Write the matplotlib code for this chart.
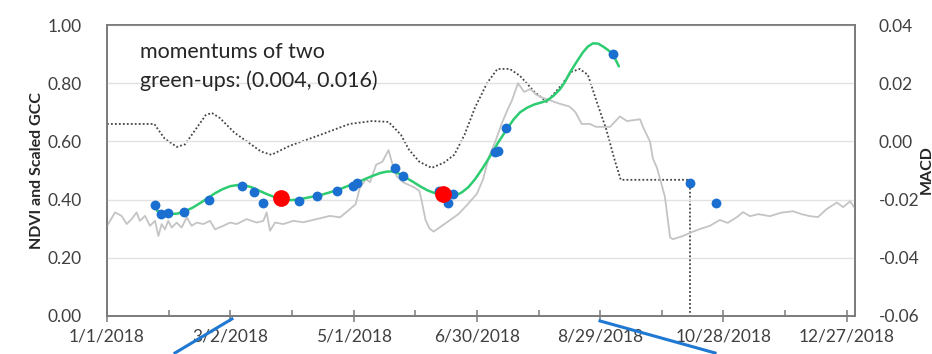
import datetime as dt
import matplotlib
matplotlib.use("Agg")
import matplotlib.pyplot as plt
from matplotlib.ticker import FixedLocator

plt.rcParams['font.family'] = ['Lato', 'DejaVu Sans']

START = dt.date(2018, 1, 1)

# Scaled GCC (day of year, value)
gcc_days = [0, 1.5, 3.9, 7.1, 9.6, 12.0, 14.4, 16.0, 18.5, 20.9, 23.4, 25.0, 26.6, 28.2,
            29.8, 31.5, 33.9, 36.3, 38.8, 41.2, 43.6, 46.9, 50.1, 52.6, 56.6, 59.9, 63.1,
            68.0, 72.8, 76.1, 77.7, 79.3, 81.8, 85.8, 90.7, 95.5, 102.0, 108.5, 113.4,
            117, 121, 123, 126, 128, 131, 134, 137, 139, 141, 144, 147, 150, 152, 153,
            155, 157, 159, 163, 167, 171, 175, 180, 183, 186, 189, 192, 195, 197, 200,
            203, 206, 209, 212, 216, 220, 225, 228, 231, 235, 238, 241, 244.8, 249.6,
            253, 259.4, 260.8, 264.2, 265.7, 267.6, 271.5, 274, 275.4, 280.3, 285.2,
            289, 293.4, 298.2, 302, 306.6, 309.5, 312.9, 317, 322.6, 328, 333.8, 338,
            342.1, 346, 350.1, 355.2, 358.2, 361.6, 364]
gcc_vals = [0.31, 0.327, 0.356, 0.344, 0.316, 0.333, 0.356, 0.327, 0.344, 0.310, 0.327,
            0.275, 0.316, 0.298, 0.327, 0.304, 0.321, 0.304, 0.339, 0.310, 0.321, 0.316,
            0.327, 0.298, 0.310, 0.321, 0.316, 0.333, 0.321, 0.327, 0.356, 0.293, 0.321,
            0.316, 0.327, 0.322, 0.333, 0.344, 0.339, 0.36, 0.384, 0.44, 0.47, 0.46, 0.52,
            0.53, 0.57, 0.52, 0.48, 0.46, 0.45, 0.44, 0.43, 0.40, 0.33, 0.30, 0.29, 0.31,
            0.33, 0.35, 0.38, 0.42, 0.47, 0.55, 0.60, 0.66, 0.71, 0.74, 0.80, 0.77, 0.78,
            0.76, 0.75, 0.74, 0.73, 0.72, 0.70, 0.66, 0.66, 0.65, 0.65, 0.65, 0.686,
            0.67, 0.676, 0.65, 0.60, 0.54, 0.51, 0.41, 0.27, 0.264, 0.275, 0.29,
            0.30, 0.31, 0.33, 0.32, 0.34, 0.357, 0.343, 0.35, 0.343, 0.355, 0.36, 0.35,
            0.343, 0.34, 0.367, 0.39, 0.374, 0.394, 0.37]

# MACD (secondary axis)
macd_days = [0, 23, 28, 34, 38, 43, 48, 51, 55, 62, 70, 75, 80, 89, 104, 118, 129, 137,
             143, 147, 152, 158, 164, 169, 174, 179, 185, 190, 196, 201, 208, 214, 220,
             226, 230, 234, 238, 243, 247, 250, 283.7, 283.7]
macd_vals = [0.006, 0.006, 0.001, -0.0019, -0.001, 0.004, 0.009, 0.0098, 0.008, 0.003,
             -0.001, -0.0035, -0.0046, -0.0015, 0.0023, 0.006, 0.007, 0.0067, 0.0023,
             -0.0029, -0.007, -0.0091, -0.0073, -0.0046, 0.0023, 0.0115, 0.0201, 0.0249,
             0.0249, 0.0225, 0.017, 0.0136, 0.0184, 0.0239, 0.0249, 0.0229, 0.0143,
             0.004, -0.0063, -0.0132, -0.0132, -0.06]

# NDVI observations
ndvi_days = [23.4, 26.1, 29.7, 37.5, 49.6, 65.7, 71.5, 75.9, 93.4, 102.2, 111.9, 119.7,
             121.7, 140.1, 144.0, 161.6, 168.4, 165.9, 188.8, 190.3, 194.2, 246.2,
             283.7, 296.4]
ndvi_vals = [0.381, 0.350, 0.353, 0.357, 0.398, 0.446, 0.425, 0.388, 0.395, 0.412, 0.429,
             0.446, 0.456, 0.508, 0.480, 0.429, 0.419, 0.388, 0.563, 0.566, 0.645, 0.902,
             0.456, 0.388]

# Fitted NDVI curve
fit_days = [24.3, 27.5, 30.7, 34.3, 38.0, 41.6, 45.3, 49.0, 52.6, 56.3, 59.9, 63.5, 67.2,
            70.9, 74.5, 78.1, 81.8, 85.5, 89.1, 92.8, 96.4, 100.0, 103.6, 108.5, 113.4,
            118.3, 123.1, 128.0, 132.8, 136.0, 138.7, 141.8, 145.0, 148.7, 152.3, 155.9,
            159.6, 163.3, 166.9, 169.8, 172.7, 175.9, 179.1, 182.8, 186.4, 190.5, 194.6,
            197.8, 201.0, 204.5, 208.0, 211.0, 214.1, 217.3, 220.4, 222.9, 225.3, 228.5,
            231.6, 234.0, 236.5, 239.0, 241.4, 243.8, 246.2, 249.1]
fit_vals = [0.362, 0.354, 0.350, 0.352, 0.360, 0.372, 0.388, 0.405, 0.422, 0.436, 0.446,
            0.450, 0.449, 0.441, 0.429, 0.418, 0.408, 0.401, 0.398, 0.400, 0.405, 0.410,
            0.415, 0.425, 0.436, 0.450, 0.463, 0.478, 0.491, 0.496, 0.497, 0.490, 0.477,
            0.462, 0.446, 0.432, 0.422, 0.415, 0.412, 0.415, 0.425, 0.443, 0.470, 0.508,
            0.549, 0.598, 0.642, 0.675, 0.700, 0.716, 0.727, 0.733, 0.740, 0.757, 0.779,
            0.805, 0.837, 0.873, 0.906, 0.926, 0.937, 0.936, 0.926, 0.914, 0.899, 0.858]

# Green-up points
greenup_days = [84.7, 163.5]
greenup_vals = [0.405, 0.419]

# Tick values
left_ticks = [0.0, 0.2, 0.4, 0.6, 0.8, 1.0]
right_ticks = [-0.06, -0.04, -0.02, 0.0, 0.02, 0.04]

# Callout lines leading to the panel below
callouts = [([60.8, 33.1], [-0.010, -0.127]), ([239.9, 295.9], [-0.017, -0.127])]

TXT = '#404040'

fig = plt.figure(figsize=(9.32, 3.54), dpi=100)
ax = fig.add_axes([107 / 932, 1 - 316 / 354, (855 - 107) / 932, (316 - 25) / 354])
ax2 = ax.twinx()
ax.set_zorder(ax2.get_zorder() + 1)
ax.patch.set_visible(False)

ax.plot(gcc_days, gcc_vals, color='#c4c4c4', lw=1.3, zorder=2)
ax2.plot(macd_days, macd_vals, color='#444444', lw=1.3, linestyle=(0, (1, 1.2)))
ax.plot(fit_days, fit_vals, color='#2ecc71', lw=1.8, zorder=3, solid_capstyle='round')
ax.scatter(ndvi_days, ndvi_vals, s=50, color='#1a6fd1', zorder=4, linewidths=0)
ax.scatter(greenup_days, greenup_vals, s=145, color='#ff0000', zorder=5, linewidths=0)

for xs, ys in callouts:
    ax.plot(xs, ys, color='#1f78d1', lw=2.2, clip_on=False, zorder=6)

ax.set_xlim(0, 364)
ax.set_ylim(0, 1.0)
ax2.set_ylim(-0.06, 0.04)

major = list(range(0, 361, 60))
ax.xaxis.set_major_locator(FixedLocator(major))
ax.xaxis.set_minor_locator(FixedLocator(list(range(30, 361, 60))))
labels = []
for d in major:
    day = START + dt.timedelta(days=d)
    labels.append(f"{day.month}/{day.day}/{day.year}")
ax.set_xticklabels(labels)

ax.set_yticks(left_ticks)
ax.set_yticklabels([f"{v:.2f}" for v in left_ticks])
ax2.set_yticks(right_ticks)
ax2.set_yticklabels([f"{v:.2f}" for v in right_ticks])

ax.grid(axis='y', color='#e2e2e2', lw=1.0)
ax.set_axisbelow(True)

for a in (ax, ax2):
    for sp in a.spines.values():
        sp.set_color('#7a7a7a')
        sp.set_linewidth(1.2)

ax.tick_params(axis='x', which='major', direction='inout', length=8, width=1.1,
               color='#7a7a7a', labelsize=12.5, labelcolor=TXT, pad=5)
ax.tick_params(axis='x', which='minor', direction='in', length=4, width=1.1, color='#7a7a7a')
ax.tick_params(axis='y', length=0, labelsize=12.5, labelcolor=TXT, pad=18)
ax2.tick_params(axis='y', length=0, labelsize=12.5, labelcolor=TXT, pad=17)

ax.set_ylabel('NDVI and Scaled GCC', fontsize=11.5, fontweight='bold', color='#262626',
              labelpad=3)
fig.text(920 / 932, 0.52, 'MACD', rotation=90, ha='left', va='center', fontsize=11.5,
         fontweight='bold', color='#262626')

ax.text(0.044, 0.94, 'momentums of two\ngreen-ups: (0.004, 0.016)', transform=ax.transAxes,
        ha='left', va='top', fontsize=15.5, color='#262626', linespacing=1.5)

fig.savefig('out.png', dpi=100)
